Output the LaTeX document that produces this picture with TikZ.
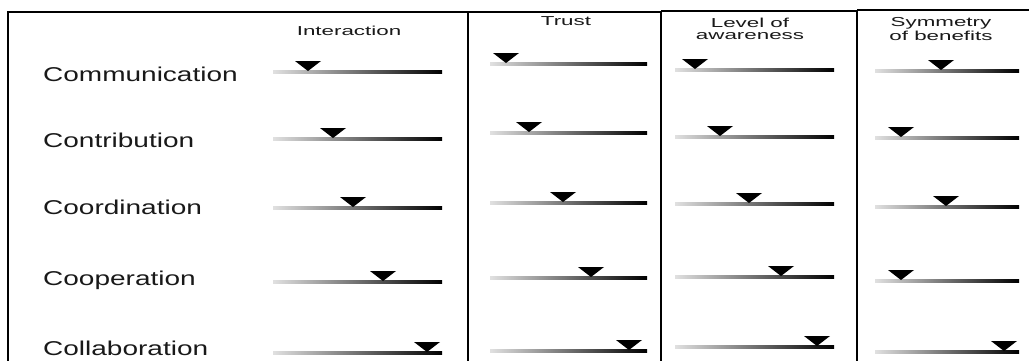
\documentclass[tikz,border=0pt]{standalone}
\usepackage{fontspec}
\usepackage{graphicx}
\setmainfont{Liberation Sans}
\tikzset{
  bar/.style={inner sep=0pt, minimum height=3pt, left color=black!12, right color=black, draw=none},
  marker/.style={fill=black},
  rowlabel/.style={anchor=west, inner sep=0pt, text=black!90, font=\fontsize{20}{20}\selectfont},
  header/.style={inner sep=0pt, align=center, text=black!90, font=\fontsize{13}{12}\selectfont},
  frame/.style={draw=black, line width=1.8pt}
}
\newcommand{\hx}[1]{\scalebox{1.72}[1]{#1}}
\newcommand{\rx}[1]{\scalebox{1.4}[1]{#1}}
\begin{document}
\begin{tikzpicture}[x=1pt,y=-1pt]
\useasboundingbox (0,0) rectangle (1029,360);
\clip (0,0) rectangle (1029,360);
\fill[white] (0,0) rectangle (1029,360);
% frames
\draw[frame] (8,375) -- (8,12) -- (468,12) -- (468,375);
\draw[frame] (468,12) -- (661,12) -- (661,375);
\draw[frame] (661,11) -- (857,11) -- (857,375);
\draw[frame] (857,10) -- (1040,10);
% headers
\node[header] (h1) at (349,31) {\hx{Interaction}};
\node[header] (h2) at (566,21) {\hx{Trust}};
\node[header] (h3) at (750,29) {\hx{Level of}\\\hx{awareness}};
\node[header] (h4) at (941,29) {\hx{Symmetry}\\\hx{of benefits}};
% row labels
\node[rowlabel] (r1) at (43,74) {\rx{Communication}};
\node[rowlabel] (r2) at (43,140) {\rx{Contribution}};
\node[rowlabel] (r3) at (43,207) {\rx{Coordination}};
\node[rowlabel] (r4) at (43,280) {\rx{Cooperation}};
\node[rowlabel] (r5) at (43,348) {\rx{Collaboration}};
% column 1: Interaction
\foreach \r/\y/\t in {1/72/308, 2/139/333, 3/208/353, 4/282/383, 5/353/427}{
  \node[bar, minimum width=169pt] (a\r) at (357.5,\y) {};
  \fill[marker] (\t-13,\y-11) -- (\t+13,\y-11) -- (\t,\y-1) -- cycle;
}
% column 2: Trust
\foreach \r/\y/\t in {1/64/506, 2/133/529, 3/203/563, 4/278/591, 5/351/629}{
  \node[bar, minimum width=157pt] (b\r) at (568.5,\y) {};
  \fill[marker] (\t-13,\y-11) -- (\t+13,\y-11) -- (\t,\y-1) -- cycle;
}
% column 3: Level of awareness
\foreach \r/\y/\t in {1/70/695, 2/137/720, 3/204/749, 4/277/781, 5/347/817}{
  \node[bar, minimum width=159pt] (c\r) at (754.5,\y) {};
  \fill[marker] (\t-13,\y-11) -- (\t+13,\y-11) -- (\t,\y-1) -- cycle;
}
% column 4: Symmetry of benefits
\foreach \r/\y/\t in {1/71/941, 2/138/901, 3/207/946, 4/281/901, 5/352/1004}{
  \node[bar, minimum width=144pt] (d\r) at (947,\y) {};
  \fill[marker] (\t-13,\y-11) -- (\t+13,\y-11) -- (\t,\y-1) -- cycle;
}
\end{tikzpicture}
\end{document}
